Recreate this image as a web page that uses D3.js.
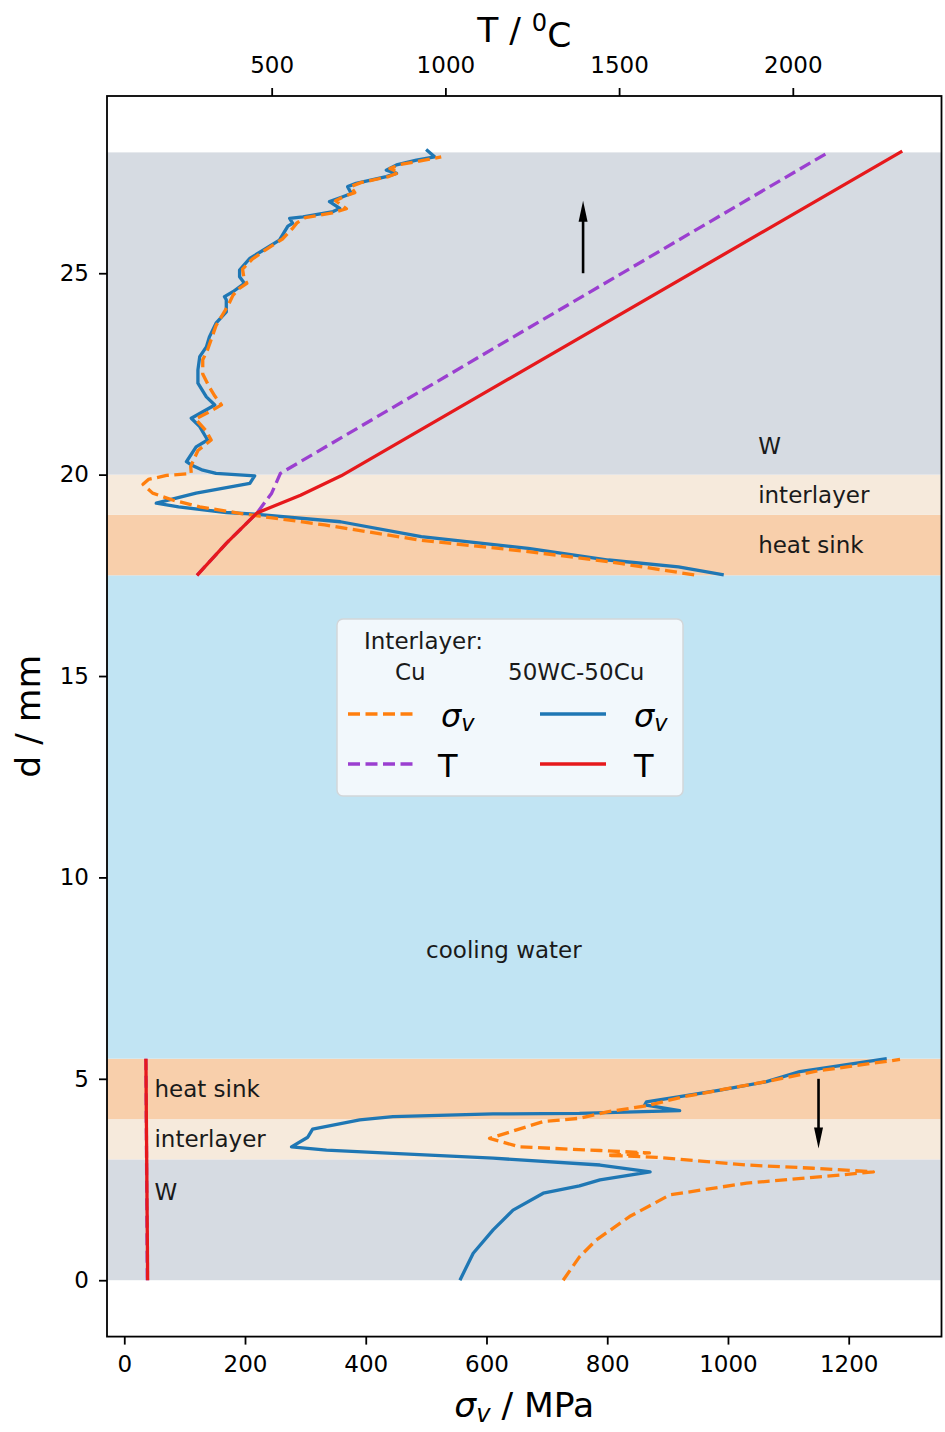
<!DOCTYPE html>
<html><head><meta charset="utf-8">
<script src="https://cdn.jsdelivr.net/npm/d3@7"></script>
<style>
html,body{margin:0;padding:0;background:#fff;}
svg text{font-family:"DejaVu Sans",sans-serif;}
</style></head>
<body>
<svg id="chart" width="945" height="1432"></svg>
<script>
// ---------------- data ----------------
const sigmaTicks = [0, 200, 400, 600, 800, 1000, 1200];
const tempTicks = [500, 1000, 1500, 2000];
const depthTicks = [0, 5, 10, 15, 20, 25];

// layer bands (d in mm)
const bandFrom = [0, 3, 4, 5.5, 17.5, 19, 20];
const bandTo   = [3, 4, 5.5, 17.5, 19, 20, 28];
const bandType = ["W", "interlayer", "heat sink", "cooling water", "heat sink", "interlayer", "W"];

// 50WC-50Cu interlayer: von Mises stress [sigma MPa, d mm]
const sigmaWC = [
  [556,0],[578,0.67],[611,1.25],[644,1.74],[694,2.16],[754,2.34],[788,2.49],[871,2.69],
  [788,2.86],[611,3.03],[445,3.15],[335,3.23],[277,3.31],[304,3.55],[312,3.75],[390,3.98],
  [445,4.06],[611,4.13],[754,4.14],[920,4.21],[862,4.35],[865,4.43],[920,4.56],[987,4.72],
  [1064,4.93],[1119,5.18],[1263,5.5]
];
const sigmaWCtop = [
  [993,17.51],[918,17.71],[802,17.88],[669,18.17],[492,18.46],[358,18.83],[216,19.02],[169,19.06],
  [90,19.2],[53,19.29],[119,19.54],[208,19.78],[216,19.97],[152,20.03],[130,20.11],[111,20.24],
  [103,20.32],[119,20.69],[138,20.86],[125,21.19],[111,21.4],[150,21.73],[136,21.93],[122,22.27],
  [122,22.6],[125,22.93],[136,23.17],[141,23.42],[152,23.76],[169,24.04],[169,24.34],[166,24.42],
  [180,24.54],[199,24.75],[191,24.91],[191,25.08],[208,25.37],[230,25.57],[257,25.82],[271,26.17],
  [279,26.24],[274,26.36],[296,26.4],[346,26.53],[357,26.61],[340,26.78],[362,26.9],[376,26.98],
  [370,27.15],[384,27.23],[434,27.4],[451,27.48],[434,27.56],[451,27.69],[484,27.81],[514,27.89],[500,28.07]
];
// Cu interlayer: von Mises stress
const sigmaCu = [
  [727,0],[754,0.58],[782,1.0],[837,1.58],[904,2.12],[1031,2.41],[1186,2.61],[1241,2.69],
  [1141,2.78],[1031,2.86],[882,3.05],[800,3.1],[870,3.16],[788,3.22],[655,3.31],[605,3.52],
  [694,3.94],[754,4.02],[800,4.18],[865,4.33],[925,4.55],[990,4.73],[1070,4.95],[1150,5.2],[1285,5.48]
];
const sigmaCutop = [
  [944,17.51],[802,17.84],[669,18.09],[492,18.37],[332,18.75],[224,18.97],[191,19.04],[125,19.2],
  [80,19.37],[47,19.54],[31,19.76],[40,19.88],[70,19.98],[111,20.03],[110,20.2],[122,20.6],
  [144,20.86],[135,21.1],[118,21.38],[140,21.55],[161,21.73],[150,21.95],[140,22.2],[130,22.5],
  [130,22.85],[138,23.1],[145,23.4],[152,23.7],[162,23.95],[172,24.2],[180,24.45],[190,24.62],
  [203,24.75],[198,24.9],[196,25.1],[212,25.35],[236,25.6],[262,25.85],[278,26.1],[286,26.25],
  [300,26.38],[345,26.5],[368,26.6],[350,26.8],[366,26.92],[382,27.0],[375,27.15],[392,27.25],
  [438,27.4],[455,27.5],[440,27.6],[458,27.7],[495,27.8],[525,27.89]
];
// temperatures [T degC, d mm]
const tempWC = [[143,0],[138,5.5]];
const tempWCtop = [[285,17.5],[370,18.3],[458,19.05],[583,19.49],[700,19.97],[2315,28.03]];
const tempCu = [[142,0],[138,5.5]];
const tempCutop = [[285,17.5],[370,18.3],[458,19.05],[500,19.54],[525,20.03],[2102,28.0]];

// text annotations [sigma, d, label]
const labelsText = [
  [1050, 20.5, "W"], [1050, 19.3, "interlayer"], [1050, 18.05, "heat sink"],
  [500, 8.0, "cooling water"],
  [50, 4.55, "heat sink"], [50, 3.3, "interlayer"], [50, 2.0, "W"]
];
// arrows [sigma, dFrom, dTo]
const arrowsData = [[760, 25.0, 26.8], [1150, 5.0, 3.27]];

// ---------------- layout ----------------
const L = 107, R = 941.5, T0 = 96, B = 1336.6;
const colors = {
  "W": "#d6dbe2", "interlayer": "#f6eadc", "heat sink": "#f8cfab", "cooling water": "#c1e4f3"
};
const cBlue = "#1f77b4", cOrange = "#ff7f0e", cPurple = "#9b3fd0", cRed = "#e6191c";

const svg = d3.select("#chart");
const x = d3.scaleLinear().domain([-28.6, 1353.7]).range([L, R]);
const xt = d3.scaleLinear().domain([26, 2428]).range([L, R]);
const y = d3.scaleLinear().domain([-1.4, 29.4]).range([B, T0]);

// bands
svg.append("g").selectAll("rect").data(bandFrom).join("rect")
  .attr("x", L).attr("width", R - L)
  .attr("y", (d, i) => y(bandTo[i]))
  .attr("height", (d, i) => y(bandFrom[i]) - y(bandTo[i]))
  .attr("fill", (d, i) => colors[bandType[i]]);

// labels
svg.append("g").selectAll("text").data(labelsText).join("text")
  .attr("x", d => x(d[0])).attr("y", d => y(d[1]))
  .attr("font-size", 23).attr("fill", "#1a1a1a")
  .text(d => d[2]);

// lines
const lineS = d3.line().x(d => x(d[0])).y(d => y(d[1]));
const lineT = d3.line().x(d => xt(d[0])).y(d => y(d[1]));
const g = svg.append("g").attr("fill", "none").attr("stroke-width", 3.3)
  .attr("stroke-linejoin", "round");
[sigmaWC, sigmaWCtop].forEach(s => g.append("path").attr("d", lineS(s)).attr("stroke", cBlue));
[sigmaCu, sigmaCutop].forEach(s => g.append("path").attr("d", lineS(s)).attr("stroke", cOrange)
  .attr("stroke-dasharray", "12,5.5"));
[tempCu, tempCutop].forEach(s => g.append("path").attr("d", lineT(s)).attr("stroke", cPurple)
  .attr("stroke-dasharray", "12,5.5"));
[tempWC, tempWCtop].forEach(s => g.append("path").attr("d", lineT(s)).attr("stroke", cRed));

// arrows
const ag = svg.append("g");
arrowsData.forEach(a => {
  const xa = x(a[0]), y1 = y(a[1]), y2 = y(a[2]);
  const dir = y2 < y1 ? -1 : 1;
  const hl = 21, hw = 4.5;
  ag.append("line").attr("x1", xa).attr("x2", xa).attr("y1", y1).attr("y2", y2 - dir * hl * 0.6)
    .attr("stroke", "#000").attr("stroke-width", 2.6);
  ag.append("path").attr("d", `M${xa},${y2} L${xa - hw},${y2 - dir * hl} L${xa + hw},${y2 - dir * hl} Z`)
    .attr("fill", "#000");
});

// axes
function styleAxis(sel) {
  sel.selectAll("path.domain").remove();
  sel.selectAll(".tick line").attr("stroke", "#000").attr("stroke-width", 1.8);
  sel.selectAll(".tick text").attr("font-size", 23).attr("fill", "#000")
    .attr("font-family", "DejaVu Sans");
}
svg.append("g").attr("transform", `translate(0,${B})`)
  .call(d3.axisBottom(x).tickValues(sigmaTicks).tickSize(8).tickPadding(11).tickFormat(d3.format("d")))
  .call(styleAxis);
svg.append("g").attr("transform", `translate(0,${T0})`)
  .call(d3.axisTop(xt).tickValues(tempTicks).tickSize(8).tickPadding(15).tickFormat(d3.format("d")))
  .call(styleAxis);
svg.append("g").attr("transform", `translate(${L},0)`)
  .call(d3.axisLeft(y).tickValues(depthTicks).tickSize(8).tickPadding(10).tickFormat(d3.format("d")))
  .call(styleAxis);

// frame
svg.append("rect").attr("x", L).attr("y", T0).attr("width", R - L).attr("height", B - T0)
  .attr("fill", "none").attr("stroke", "#000").attr("stroke-width", 1.8);

// axis labels
const tl = svg.append("text").attr("x", (L + R) / 2).attr("y", 42).attr("text-anchor", "middle")
  .attr("font-size", 34.5);
tl.append("tspan").text("T / ");
tl.append("tspan").attr("font-size", "70%").attr("dy", "-0.45em").text("0");
tl.append("tspan").attr("dy", "0.45em").text("C");

const bl = svg.append("text").attr("x", (L + R) / 2).attr("y", 1417).attr("text-anchor", "middle")
  .attr("font-size", 34.5);
bl.append("tspan").attr("font-style", "italic").text("σ");
bl.append("tspan").attr("font-style", "italic").attr("font-size", "70%").attr("dy", "0.22em").text("v");
bl.append("tspan").attr("dy", "-0.15em").text(" / MPa");

svg.append("text").attr("transform", `translate(40,${(T0 + B) / 2}) rotate(-90)`)
  .attr("text-anchor", "middle").attr("font-size", 34.5).text("d / mm");

// legend
const lg = svg.append("g");
lg.append("rect").attr("x", 337).attr("y", 619).attr("width", 346).attr("height", 177)
  .attr("rx", 6).attr("fill", "#f2f8fc").attr("stroke", "#d2d6d9").attr("stroke-width", 1.5);
lg.append("text").attr("x", 364).attr("y", 649).attr("font-size", 23).attr("fill", "#1a1a1a").text("Interlayer:");
lg.append("text").attr("x", 395).attr("y", 680).attr("font-size", 23).attr("fill", "#1a1a1a").text("Cu");
lg.append("text").attr("x", 508).attr("y", 680).attr("font-size", 23).attr("fill", "#1a1a1a").text("50WC-50Cu");
const legendRows = [
  {x0: 348, yy: 714, color: cOrange, dash: "12,5.5", lab: "sigma", tx: 441},
  {x0: 348, yy: 764, color: cPurple, dash: "12,5.5", lab: "T", tx: 438},
  {x0: 540, yy: 714, color: cBlue, dash: null, lab: "sigma", tx: 634},
  {x0: 540, yy: 764, color: cRed, dash: null, lab: "T", tx: 634}
];
legendRows.forEach(r => {
  const ln = lg.append("line").attr("x1", r.x0).attr("x2", r.x0 + 66).attr("y1", r.yy).attr("y2", r.yy)
    .attr("stroke", r.color).attr("stroke-width", 3.3);
  if (r.dash) ln.attr("stroke-dasharray", r.dash);
  const t = lg.append("text").attr("x", r.tx).attr("font-size", 32).attr("fill", "#000");
  if (r.lab === "sigma") {
    t.attr("y", 727);
    t.append("tspan").attr("font-style", "italic").text("σ");
    t.append("tspan").attr("font-style", "italic").attr("font-size", "70%").attr("dy", "0.2em").text("v");
  } else {
    t.attr("y", 777).text("T");
  }
});
</script>
</body></html>
